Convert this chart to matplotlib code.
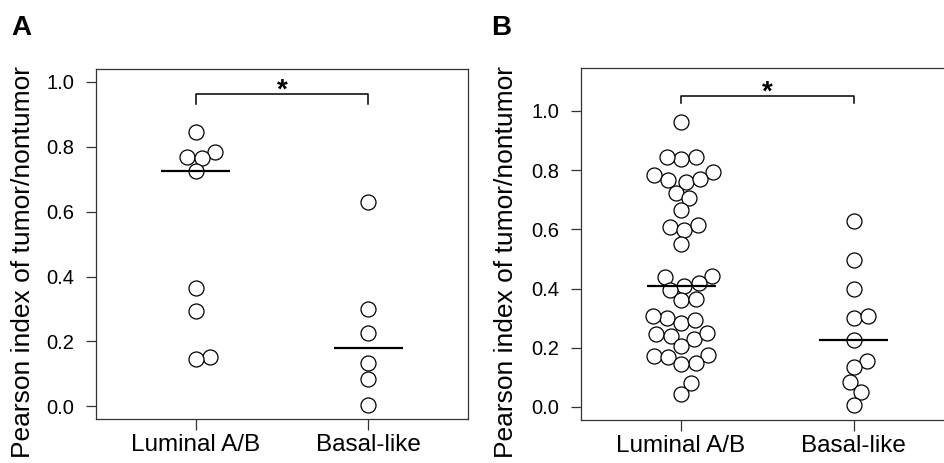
import numpy as np
import matplotlib
matplotlib.use("Agg")
import matplotlib.pyplot as plt

plt.rcParams['font.family'] = ['Liberation Sans', 'DejaVu Sans']

groups = ["Luminal A/B", "Basal-like"]
yticks = [0.0, 0.2, 0.4, 0.6, 0.8, 1.0]

# panel A values
lum_a = [0.846, 0.785, 0.769, 0.766, 0.725, 0.365, 0.295, 0.152, 0.146]
bas_a = [0.629, 0.300, 0.226, 0.134, 0.084, 0.005]

# panel B values
lum_b = [0.961, 0.843, 0.837, 0.843, 0.785, 0.794, 0.766, 0.759, 0.769,
         0.724, 0.706, 0.665, 0.608, 0.597, 0.614, 0.549, 0.443, 0.439,
         0.420, 0.408, 0.394, 0.360, 0.364, 0.301, 0.285, 0.293, 0.307,
         0.245, 0.240, 0.228, 0.251, 0.205, 0.171, 0.169, 0.177, 0.150,
         0.144, 0.081, 0.045]
bas_b = [0.628, 0.498, 0.400, 0.301, 0.307, 0.225, 0.154, 0.135, 0.084,
         0.049, 0.006]

W, H = 945, 463
fig = plt.figure(figsize=(W / 100, H / 100), dpi=100)

ylab = "Pearson index of tumor/nontumor"
edge = "#333333"
DIAM = 14.6  # px spacing used for the swarm


def swarm(ax, xc, ys, d):
    # beeswarm "swarm" layout, done in pixel space, ascending priority
    tr = ax.transData
    pts = tr.transform(np.column_stack([np.full(len(ys), xc), ys]))
    ppu = tr.transform((1, 0))[0] - tr.transform((0, 0))[0]
    order = np.argsort(ys, kind="stable")
    px, py = [], []
    off = np.zeros(len(ys))
    for i in order:
        y = pts[i, 1]
        cands = [0.0]
        for xo, yo in zip(px, py):
            dy = abs(y - yo)
            if dy < d:
                dx = np.sqrt(d * d - dy * dy)
                cands += [xo + dx, xo - dx]
        cands.sort(key=lambda c: (round(abs(c), 6), -c))
        pick = cands[-1]
        for c in cands:
            if all((c - xo) ** 2 + (y - yo) ** 2 >= d * d - 1e-6
                   for xo, yo in zip(px, py)):
                pick = c
                break
        px.append(pick)
        py.append(y)
        off[i] = pick
    return xc + off / ppu


def panel(rect, data, ylim, letter, letter_x, lab_x, br_y, br_leg):
    ax = fig.add_axes(rect)
    ax.set_xlim(0.42, 2.58)
    ax.set_ylim(*ylim)
    for k, vals in enumerate(data):
        xc = k + 1
        xs = swarm(ax, xc, vals, DIAM)
        ax.plot(xs, vals, 'o', ms=10.8, mfc='white', mec='black', mew=0.9,
                ls='none', zorder=3)
        med = np.median(vals)
        ax.plot([xc - 0.2, xc + 0.2], [med, med], color='black', lw=1.6,
                zorder=4, solid_capstyle='butt')
    # significance bracket
    tb = ax.get_xaxis_transform()
    ax.plot([1, 1, 2, 2], [br_y - br_leg, br_y, br_y, br_y - br_leg],
            color='black', lw=1.1, transform=tb, clip_on=False)
    ax.annotate("*", xy=(1.5, br_y), xycoords=tb, xytext=(0, -2.5),
                textcoords='offset points', ha='center', va='baseline',
                fontsize=20, fontweight='bold')
    ax.set_xticks([1, 2])
    ax.set_xticklabels(groups, fontsize=17.5)
    ax.set_yticks(yticks)
    ax.set_yticklabels(["%.1f" % v for v in yticks], fontsize=14.5)
    ax.tick_params(axis='y', length=7.5, width=0.9, color=edge, pad=8)
    ax.tick_params(axis='x', length=8, width=0.9, color=edge, pad=2.5)
    for s in ax.spines.values():
        s.set_color(edge)
        s.set_linewidth(0.9)
    fig.text(letter_x / W, 1 - 35 / H, letter, fontsize=20,
             fontweight='bold', ha='left', va='baseline')
    fig.text(lab_x / W, 1 - 261.5 / H, ylab, rotation=90, fontsize=19,
             ha='right', va='center')
    return ax


panel([95.7 / W, 1 - 419.3 / H, 372.6 / W, 350.3 / H], [lum_a, bas_a],
      (-0.04, 1.04), "A", 11.5, 35.0, 0.928, 0.029)
panel([581.0 / W, 1 - 420.0 / H, 372.6 / W, 351.7 / H], [lum_b, bas_b],
      (-0.044, 1.144), "B", 491.5, 518.0, 0.921, 0.019)

fig.savefig("out.png", dpi=100)
